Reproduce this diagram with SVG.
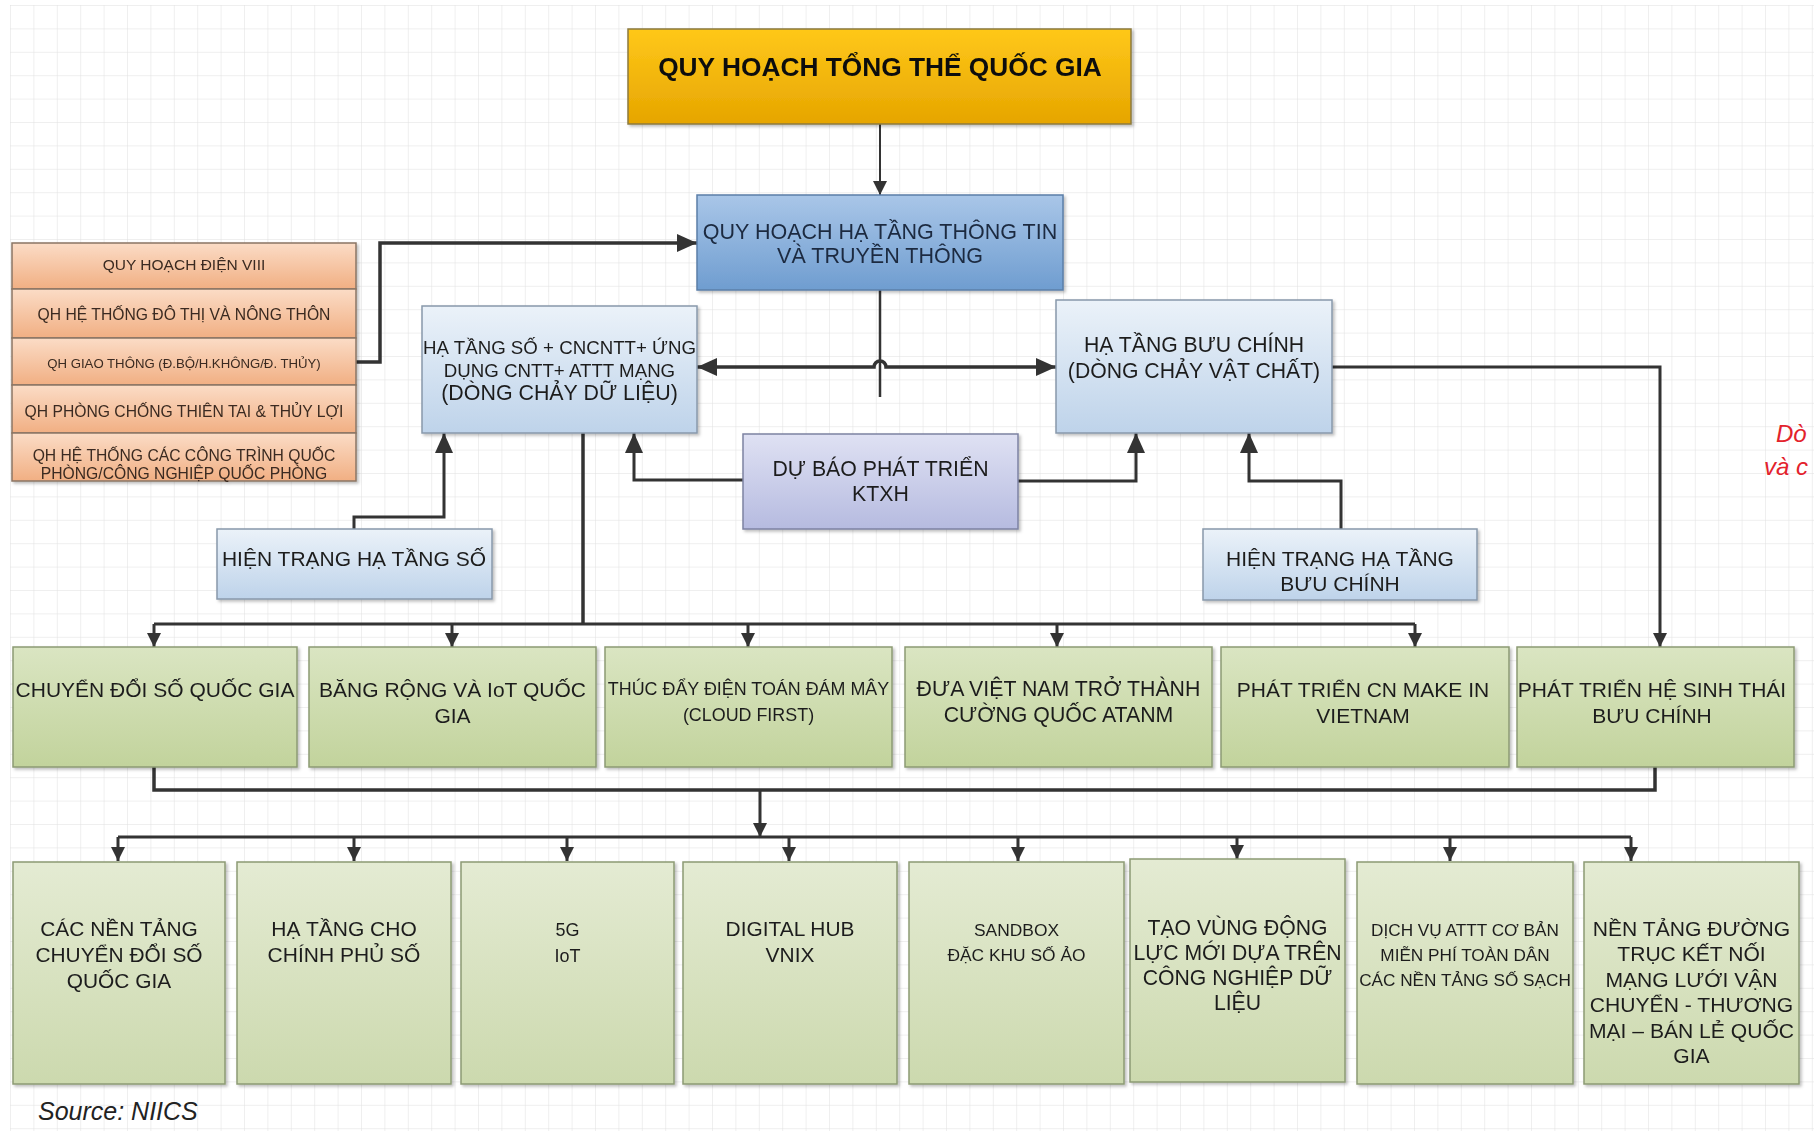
<svg xmlns="http://www.w3.org/2000/svg" width="1814" height="1131" viewBox="0 0 1814 1131">
<defs>
<pattern id="grid" width="23.4" height="23.4" patternUnits="userSpaceOnUse" x="10" y="5"><path d="M23.4 0 L0 0 0 23.4" fill="none" stroke="#e0e0e0" stroke-width="1"/></pattern>
<linearGradient id="gGold" x1="0" y1="0" x2="0" y2="1"><stop offset="0" stop-color="#ffc819"/><stop offset="1" stop-color="#e6a500"/></linearGradient>
<linearGradient id="gBlue" x1="0" y1="0" x2="0" y2="1"><stop offset="0" stop-color="#a9c6e8"/><stop offset="1" stop-color="#6f9dd0"/></linearGradient>
<linearGradient id="gLight" x1="0" y1="0" x2="0" y2="1"><stop offset="0" stop-color="#ebf2f9"/><stop offset="1" stop-color="#bed3ea"/></linearGradient>
<linearGradient id="gLav" x1="0" y1="0" x2="0" y2="1"><stop offset="0" stop-color="#dfe1f3"/><stop offset="1" stop-color="#b6bbe0"/></linearGradient>
<linearGradient id="gOr" x1="0" y1="0" x2="0" y2="1"><stop offset="0" stop-color="#fbdcc6"/><stop offset="1" stop-color="#f1af83"/></linearGradient>
<linearGradient id="gGreen" x1="0" y1="0" x2="0" y2="1"><stop offset="0" stop-color="#dae5c2"/><stop offset="1" stop-color="#c2d39c"/></linearGradient>
<linearGradient id="gGreen2" x1="0" y1="0" x2="0" y2="1"><stop offset="0" stop-color="#e4ebd3"/><stop offset="1" stop-color="#ccd9ae"/></linearGradient>
<filter id="sh" x="-5%" y="-5%" width="110%" height="115%"><feDropShadow dx="2" dy="2" stdDeviation="1.5" flood-color="#000" flood-opacity="0.25"/></filter>
<marker id="ah" viewBox="0 0 14 14" refX="14" refY="7" markerWidth="14" markerHeight="14" markerUnits="userSpaceOnUse" orient="auto"><path d="M0,0 L14,7 L0,14 z" fill="#333"/></marker>
<marker id="ahL" viewBox="0 0 20 18" refX="20" refY="9" markerWidth="20" markerHeight="18" markerUnits="userSpaceOnUse" orient="auto-start-reverse"><path d="M0,0 L20,9 L0,18 z" fill="#333"/></marker>
<style>
.t{font-family:"Liberation Sans",Arial,sans-serif;fill:#1e1e1e;text-anchor:middle;dominant-baseline:central}
.b{stroke-width:1.5}
.n{filter:url(#sh)}
.c{fill:none;stroke:#333;stroke-width:3}
.ct{fill:none;stroke:#333;stroke-width:3.5}
</style>
</defs>
<rect width="1814" height="1131" fill="#ffffff"/>
<rect x="10" y="5" width="1804" height="1126" fill="url(#grid)"/>

<g id="connectors">
<path class="c" style="stroke-width:2" d="M880,124 L880,195" marker-end="url(#ah)"/>
<path class="ct" d="M356,362 L380,362 L380,243 L697,243" marker-end="url(#ahL)"/>
<path class="c" style="stroke-width:2.5" d="M880,290 L880,397"/>
<path class="ct" d="M697,367 L874,367 A6,6 0 0 1 886,367 L1056,367" marker-start="url(#ahL)" marker-end="url(#ahL)"/>
<path class="c" d="M354,529 L354,517 L444,517 L444,433" marker-end="url(#ahL)"/>
<path class="c" d="M743,480 L634,480 L634,433" marker-end="url(#ahL)"/>
<path class="c" d="M1018,481 L1136,481 L1136,433" marker-end="url(#ahL)"/>
<path class="c" d="M1341,529 L1341,481 L1249,481 L1249,433" marker-end="url(#ahL)"/>
<path class="c" d="M1332,367 L1660,367 L1660,647" marker-end="url(#ah)"/>
<path class="ct" d="M583,433 L583,624"/>
<path class="c" d="M154,624 L1415,624"/>
<path class="c" d="M154,624 L154,647" marker-end="url(#ah)"/>
<path class="c" d="M452,624 L452,647" marker-end="url(#ah)"/>
<path class="c" d="M748,624 L748,647" marker-end="url(#ah)"/>
<path class="c" d="M1057,624 L1057,647" marker-end="url(#ah)"/>
<path class="c" d="M1415,624 L1415,647" marker-end="url(#ah)"/>
<path class="ct" d="M154,767 L154,790 L1655,790 L1655,767"/>
<path class="c" d="M760,790 L760,837" marker-end="url(#ah)"/>
<path class="c" d="M118,837 L1631,837"/>
<path class="c" d="M118,837 L118,861" marker-end="url(#ah)"/>
<path class="c" d="M354,837 L354,861" marker-end="url(#ah)"/>
<path class="c" d="M567,837 L567,861" marker-end="url(#ah)"/>
<path class="c" d="M789,837 L789,861" marker-end="url(#ah)"/>
<path class="c" d="M1018,837 L1018,861" marker-end="url(#ah)"/>
<path class="c" d="M1237,837 L1237,859" marker-end="url(#ah)"/>
<path class="c" d="M1450,837 L1450,861" marker-end="url(#ah)"/>
<path class="c" d="M1631,837 L1631,861" marker-end="url(#ah)"/>
</g>

<g id="n-tong-the" class="n"><rect x="628" y="29" width="503" height="95" fill="url(#gGold)" stroke="#8c7a3f" class="b"/><text class="t" x="880" y="67" font-size="26.3" font-weight="bold" style="fill:#111">QUY HOẠCH TỔNG THỂ QUỐC GIA</text></g>

<g id="n-qh-ha-tang" class="n"><rect x="697" y="195" width="366" height="95" fill="url(#gBlue)" stroke="#5b7fa8" class="b"/><text class="t" font-size="21.5" style="fill:#1c2a40"><tspan x="880" y="232">QUY HOẠCH HẠ TẦNG THÔNG TIN</tspan><tspan x="880" y="256">VÀ TRUYỀN THÔNG</tspan></text></g>

<g id="n-orange" class="n">
<rect x="12" y="243" width="344" height="46" fill="url(#gOr)" stroke="#8a7564" class="b"/>
<rect x="12" y="289" width="344" height="49" fill="url(#gOr)" stroke="#8a7564" class="b"/>
<rect x="12" y="338" width="344" height="47" fill="url(#gOr)" stroke="#8a7564" class="b"/>
<rect x="12" y="385" width="344" height="48" fill="url(#gOr)" stroke="#8a7564" class="b"/>
<rect x="12" y="433" width="344" height="48" fill="url(#gOr)" stroke="#8a7564" class="b"/>
<text class="t" x="184" y="264" font-size="15.5" style="fill:#3a2a20">QUY HOẠCH ĐIỆN VIII</text>
<text class="t" x="184" y="314" font-size="15.7" style="fill:#3a2a20">QH HỆ THỐNG ĐÔ THỊ VÀ NÔNG THÔN</text>
<text class="t" x="184" y="363" font-size="13.2" style="fill:#3a2a20">QH GIAO THÔNG (Đ.BỘ/H.KHÔNG/Đ. THỦY)</text>
<text class="t" x="184" y="411" font-size="15.7" style="fill:#3a2a20">QH PHÒNG CHỐNG THIÊN TAI &amp; THỦY LỢI</text>
<text class="t" font-size="15.7" style="fill:#3a2a20"><tspan x="184" y="455">QH HỆ THỐNG CÁC CÔNG TRÌNH QUỐC</tspan><tspan x="184" y="473">PHÒNG/CÔNG NGHIỆP QUỐC PHÒNG</tspan></text>
</g>

<g id="n-ha-tang-so" class="n"><rect x="422" y="306" width="275" height="127" fill="url(#gLight)" stroke="#8898ab" class="b"/><text class="t"><tspan x="559.5" y="347" font-size="18.7">HẠ TẦNG SỐ + CNCNTT+ ỨNG</tspan><tspan x="559.5" y="370" font-size="18.7">DỤNG CNTT+ ATTT MẠNG</tspan><tspan x="559.5" y="393" font-size="21.4">(DÒNG CHẢY DỮ LIỆU)</tspan></text></g>

<g id="n-hien-trang-so" class="n"><rect x="217" y="529" width="275" height="70" fill="url(#gLight)" stroke="#8898ab" class="b"/><text class="t" x="354" y="558" font-size="21">HIỆN TRẠNG HẠ TẦNG SỐ</text></g>

<g id="n-buu-chinh" class="n"><rect x="1056" y="300" width="276" height="133" fill="url(#gLight)" stroke="#8898ab" class="b"/><text class="t" font-size="21.2"><tspan x="1194" y="344">HẠ TẦNG BƯU CHÍNH</tspan><tspan x="1194" y="370">(DÒNG CHẢY VẬT CHẤT)</tspan></text></g>

<g id="n-du-bao" class="n"><rect x="743" y="434" width="275" height="95" fill="url(#gLav)" stroke="#7d82a3" class="b"/><text class="t" font-size="21.3"><tspan x="880.5" y="469">DỰ BÁO PHÁT TRIỂN</tspan><tspan x="880.5" y="494">KTXH</tspan></text></g>

<g id="n-hien-trang-bc" class="n"><rect x="1203" y="529" width="274" height="71" fill="url(#gLight)" stroke="#8898ab" class="b"/><text class="t" font-size="21"><tspan x="1340" y="558">HIỆN TRẠNG HẠ TẦNG</tspan><tspan x="1340" y="583">BƯU CHÍNH</tspan></text></g>

<g id="n-g1" class="n"><rect x="13" y="647" width="284" height="120" fill="url(#gGreen)" stroke="#8c9a74" class="b"/><text class="t" x="155" y="689" font-size="21">CHUYỂN ĐỔI SỐ QUỐC GIA</text></g>
<g id="n-g2" class="n"><rect x="309" y="647" width="287" height="120" fill="url(#gGreen)" stroke="#8c9a74" class="b"/><text class="t" font-size="21"><tspan x="452.5" y="689">BĂNG RỘNG VÀ IoT QUỐC</tspan><tspan x="452.5" y="715">GIA</tspan></text></g>
<g id="n-g3" class="n"><rect x="605" y="647" width="287" height="120" fill="url(#gGreen)" stroke="#8c9a74" class="b"/><text class="t" font-size="17.9"><tspan x="748.5" y="689">THÚC ĐẨY ĐIỆN TOÁN ĐÁM MÂY</tspan><tspan x="748.5" y="715">(CLOUD FIRST)</tspan></text></g>
<g id="n-g4" class="n"><rect x="905" y="647" width="307" height="120" fill="url(#gGreen)" stroke="#8c9a74" class="b"/><text class="t" font-size="21.3"><tspan x="1058.5" y="689">ĐƯA VIỆT NAM TRỞ THÀNH</tspan><tspan x="1058.5" y="715">CƯỜNG QUỐC ATANM</tspan></text></g>
<g id="n-g5" class="n"><rect x="1221" y="647" width="288" height="120" fill="url(#gGreen)" stroke="#8c9a74" class="b"/><text class="t" font-size="21"><tspan x="1363" y="689">PHÁT TRIỂN CN MAKE IN</tspan><tspan x="1363" y="715">VIETNAM</tspan></text></g>
<g id="n-g6" class="n"><rect x="1517" y="647" width="277" height="120" fill="url(#gGreen)" stroke="#8c9a74" class="b"/><text class="t" font-size="21"><tspan x="1652" y="689">PHÁT TRIỂN HỆ SINH THÁI</tspan><tspan x="1652" y="715">BƯU CHÍNH</tspan></text></g>

<g id="n-b1" class="n"><rect x="13" y="862" width="212" height="222" fill="url(#gGreen2)" stroke="#8c9a74" class="b"/><text class="t" font-size="20.9"><tspan x="119" y="928">CÁC NỀN TẢNG</tspan><tspan x="119" y="954">CHUYỂN ĐỔI SỐ</tspan><tspan x="119" y="980">QUỐC GIA</tspan></text></g>
<g id="n-b2" class="n"><rect x="237" y="862" width="214" height="222" fill="url(#gGreen2)" stroke="#8c9a74" class="b"/><text class="t" font-size="21"><tspan x="344" y="928">HẠ TẦNG CHO</tspan><tspan x="344" y="954">CHÍNH PHỦ SỐ</tspan></text></g>
<g id="n-b3" class="n"><rect x="461" y="862" width="213" height="222" fill="url(#gGreen2)" stroke="#8c9a74" class="b"/><text class="t" font-size="18"><tspan x="567.5" y="930">5G</tspan><tspan x="567.5" y="956">IoT</tspan></text></g>
<g id="n-b4" class="n"><rect x="683" y="862" width="214" height="222" fill="url(#gGreen2)" stroke="#8c9a74" class="b"/><text class="t" font-size="20.9"><tspan x="790" y="928">DIGITAL HUB</tspan><tspan x="790" y="954">VNIX</tspan></text></g>
<g id="n-b5" class="n"><rect x="909" y="862" width="215" height="222" fill="url(#gGreen2)" stroke="#8c9a74" class="b"/><text class="t" font-size="17.4"><tspan x="1016.5" y="930">SANDBOX</tspan><tspan x="1016.5" y="955">ĐẶC KHU SỐ ẢO</tspan></text></g>
<g id="n-b6" class="n"><rect x="1130" y="859" width="215" height="223" fill="url(#gGreen2)" stroke="#8c9a74" class="b"/><text class="t" font-size="21.2"><tspan x="1237.5" y="927">TẠO VÙNG ĐỘNG</tspan><tspan x="1237.5" y="952">LỰC MỚI DỰA TRÊN</tspan><tspan x="1237.5" y="977">CÔNG NGHIỆP DỮ</tspan><tspan x="1237.5" y="1002">LIỆU</tspan></text></g>
<g id="n-b7" class="n"><rect x="1357" y="862" width="216" height="222" fill="url(#gGreen2)" stroke="#8c9a74" class="b"/><text class="t" font-size="17.2"><tspan x="1465" y="930">DỊCH VỤ ATTT CƠ BẢN</tspan><tspan x="1465" y="955">MIỄN PHÍ TOÀN DÂN</tspan><tspan x="1465" y="980">CÁC NỀN TẢNG SỐ SẠCH</tspan></text></g>
<g id="n-b8" class="n"><rect x="1584" y="862" width="215" height="222" fill="url(#gGreen2)" stroke="#8c9a74" class="b"/><text class="t" font-size="21.1"><tspan x="1691.5" y="928">NỀN TẢNG ĐƯỜNG</tspan><tspan x="1691.5" y="953">TRỤC KẾT NỐI</tspan><tspan x="1691.5" y="979">MẠNG LƯỚI VẬN</tspan><tspan x="1691.5" y="1004">CHUYỂN - THƯƠNG</tspan><tspan x="1691.5" y="1030">MẠI – BÁN LẺ QUỐC</tspan><tspan x="1691.5" y="1055">GIA</tspan></text></g>

<g id="labels">
<text x="38" y="1120" font-family="Liberation Sans, Arial, sans-serif" font-size="25" font-style="italic" fill="#222">Source: NIICS</text>
<text x="1776" y="442" font-family="Liberation Sans, Arial, sans-serif" font-size="24" font-style="italic" fill="#e3222c">Dò</text>
<text x="1764" y="475" font-family="Liberation Sans, Arial, sans-serif" font-size="24" font-style="italic" fill="#e3222c">và c</text>
</g>
</svg>
